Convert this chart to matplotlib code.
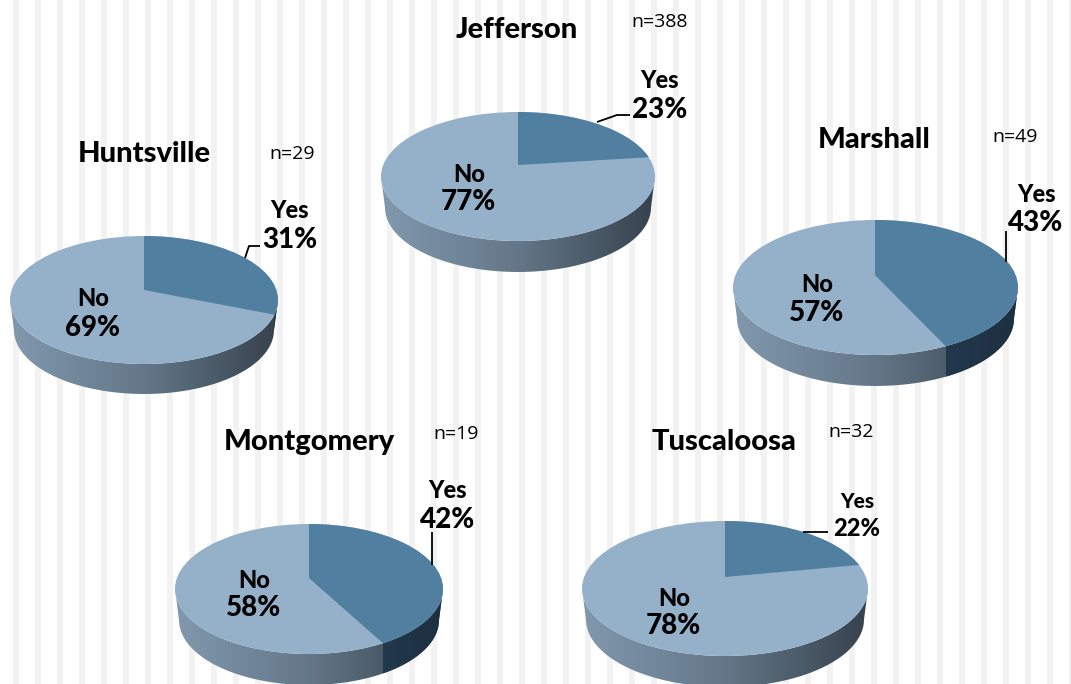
import numpy as np
import matplotlib
matplotlib.use("Agg")
import matplotlib.pyplot as plt
from matplotlib.patches import Ellipse, Polygon, PathPatch, Rectangle
from matplotlib.path import Path
from matplotlib.colors import LinearSegmentedColormap

cities = ["Huntsville", "Jefferson", "Marshall", "Montgomery", "Tuscaloosa"]
counts = ["n=29", "n=388", "n=49", "n=19", "n=32"]
yes_pct = [31, 23, 43, 42, 22]
no_pct = [69, 77, 57, 58, 78]

# layout: left, right, top, bottom of top ellipse, apex x, y, depth
geom = [(10, 278, 236, 364, 144, 290, 30),
        (381, 655, 112, 241, 518, 165, 31),
        (733, 1018, 220, 355, 875, 275, 31),
        (175, 443, 524, 654, 309, 578, 31),
        (582, 868, 521, 656, 725, 577, 31)]
title_pos = [(144, 154), (517, 30), (874, 140), (309, 442), (724, 442)]
n_pos = [(292, 154), (660, 22), (1015, 137), (456, 434), (851, 432)]
yes_pos = [(290, 210), (660, 80), (1037, 194), (448, 490), (857, 501)]
yes_pct_pos = [(290, 240), (660, 110), (1036, 223), (448, 520), (857, 528)]
no_pos = [(93, 299), (469, 174), (817, 284), (254, 580), (674, 599)]
no_pct_pos = [(93, 328), (468, 202), (817, 313), (254, 608), (673, 626)]
leaders = [[(245, 258), (249, 246), (260, 246)],
           [(597, 122), (617, 115), (630, 115)],
           [(1006, 262), (1006, 231)],
           [(432, 565), (432, 532)],
           [(803, 532), (828, 532)]]
yes_size = [17, 17, 17, 17, 15]
yes_pct_size = [20, 20, 20, 20, 17]

LIGHT, DARK = "#95B0C9", "#507F9F"
side_cm = LinearSegmentedColormap.from_list("s", ["#8198AE", "#647788", "#36424D"])
dark_cm = LinearSegmentedColormap.from_list("d", ["#22384C", "#1D2F40"])

plt.rcParams["font.family"] = ["Lato", "DejaVu Sans"]
fig = plt.figure(figsize=(10.71, 6.84), dpi=100)
ax = fig.add_axes([0, 0, 1, 1])
ax.set_xlim(0, 1071)
ax.set_ylim(684, 0)
ax.axis("off")

for x in range(13, 1071, 22):
    ax.add_patch(Rectangle((x, 0), 6, 684, fc="#F2F2F2", ec="none", zorder=0))

grad = np.linspace(0, 1, 256)[None, :]
for i, (l, r, t, b, ax_x, ax_y, depth) in enumerate(geom):
    cx, cy = (l + r) / 2, (t + b) / 2
    rx, ry = (r - l) / 2, (b - t) / 2
    # side wall, slightly narrower at its foot
    th = np.linspace(np.pi, 0, 120)
    xs, ys = cx + rx * np.cos(th), cy + ry * np.sin(th)
    xb, yb = cx + (rx - 4) * np.cos(th), cy + ry * np.sin(th) + depth
    verts = np.vstack([np.c_[xs, ys], np.c_[xb[::-1], yb[::-1]], [[xs[0], ys[0]]]])
    side = PathPatch(Path(verts), fc="none", ec="none", transform=ax.transData)
    ax.add_patch(side)
    im = ax.imshow(grad, cmap=side_cm, extent=(l, r, b + depth, cy), aspect="auto", zorder=1)
    im.set_clip_path(side)
    # yes wedge from its value
    end = np.radians(yes_pct[i] * 3.6)
    ang = np.linspace(0, end, 60)
    far = 6.0
    wx = ax_x + far * rx * np.sin(ang)
    wy = ax_y - far * ry * np.cos(ang)
    # where the wedge meets the rim, for the dark wall
    d = np.array([rx * np.sin(end), -ry * np.cos(end)])
    p = np.array([(ax_x - cx) / rx, (ax_y - cy) / ry])
    q = d / np.array([rx, ry])
    A, B, C = q @ q, 2 * p @ q, p @ p - 1
    s = (-B + np.sqrt(B * B - 4 * A * C)) / (2 * A)
    ex, ey = ax_x + s * d[0], ax_y + s * d[1]
    if ey > cy:
        im2 = ax.imshow(grad, cmap=dark_cm, extent=(ex, r, b + depth, cy), aspect="auto", zorder=1.5)
        im2.set_clip_path(side)
    # top
    top = Ellipse((cx, cy), 2 * rx, 2 * ry, fc=LIGHT, ec="none", zorder=2)
    ax.add_patch(top)
    wedge = Polygon(np.vstack([[ax_x, ax_y], np.c_[wx, wy]]), closed=True, fc=DARK, ec="none", zorder=3)
    ax.add_patch(wedge)
    wedge.set_clip_path(top)

    ax.plot(*zip(*leaders[i]), color="black", lw=1.3, zorder=4, solid_capstyle="butt")
    bold = dict(ha="center", va="center", fontweight="black", color="black", zorder=5)
    ax.text(*title_pos[i], cities[i], fontsize=21, **bold)
    ax.text(*n_pos[i], counts[i], ha="center", va="center", fontsize=14, family="Open Sans", color="black", zorder=5)
    ax.text(*yes_pos[i], "Yes", fontsize=yes_size[i], **bold)
    ax.text(*yes_pct_pos[i], f"{yes_pct[i]}%", fontsize=yes_pct_size[i], **bold)
    ax.text(*no_pos[i], "No", fontsize=17, **bold)
    ax.text(*no_pct_pos[i], f"{no_pct[i]}%", fontsize=20, **bold)

ax.set_xlim(0, 1071)
ax.set_ylim(684, 0)
fig.savefig("out.png", dpi=100)
